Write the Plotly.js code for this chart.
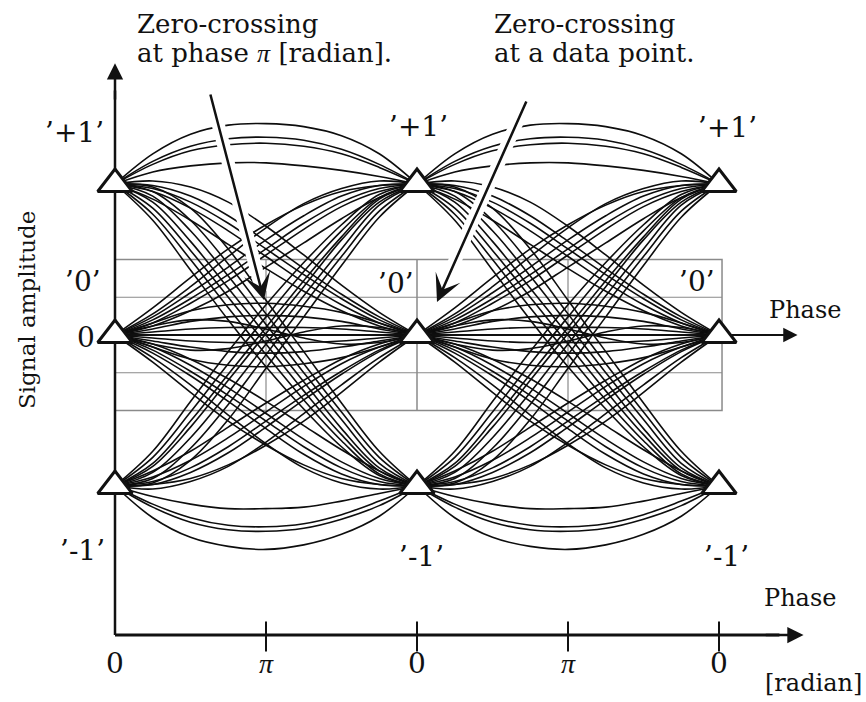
<!DOCTYPE html>
<html>
<head>
<meta charset="utf-8">
<script src="https://cdn.plot.ly/plotly-3.0.1.min.js"></script>
<style>
  html, body { margin: 0; padding: 0; background: #fff; }
  #chart { width: 866px; height: 702px; }
</style>
</head>
<body>
<div id="chart"></div>
<script>
// Phase samples (units of π rad) across each of the two symbol intervals
const phaseFirst  = [0, 0.25, 0.5, 0.75, 1, 1.25, 1.5, 1.75, 2];
const phaseSecond = [2, 2.25, 2.5, 2.75, 3, 3.25, 3.5, 3.75, 4];

// Signal trajectories, one row per trace, sampled at the phases above
const plusToPlus = [
  [1, 1.20, 1.33, 1.39, 1.40, 1.38, 1.32, 1.20, 1],
  [1, 1.15, 1.25, 1.30, 1.31, 1.29, 1.23, 1.13, 1],
  [1, 1.13, 1.22, 1.26, 1.27, 1.25, 1.20, 1.11, 1],
  [1, 1.08, 1.12, 1.14, 1.14, 1.12, 1.09, 1.05, 1]
];
const minusToMinus = [
  [-1, -1.21, -1.34, -1.40, -1.42, -1.39, -1.32, -1.20, -1],
  [-1, -1.14, -1.24, -1.29, -1.30, -1.28, -1.22, -1.13, -1],
  [-1, -1.12, -1.21, -1.26, -1.27, -1.25, -1.19, -1.10, -1],
  [-1, -1.07, -1.12, -1.15, -1.15, -1.14, -1.10, -1.05, -1]
];
const plusToMinus = [
  [1, 0.88, 0.62, 0.31, 0.00, -0.31, -0.62, -0.88, -1],
  [1, 0.92, 0.69, 0.39, 0.07, -0.25, -0.56, -0.85, -1],
  [1, 0.84, 0.56, 0.25, -0.06, -0.37, -0.66, -0.90, -1],
  [1, 0.95, 0.76, 0.47, 0.14, -0.19, -0.51, -0.81, -1],
  [1, 0.80, 0.50, 0.18, -0.13, -0.43, -0.70, -0.92, -1],
  [1, 0.98, 0.84, 0.57, 0.23, -0.11, -0.45, -0.77, -1],
  [1, 0.76, 0.43, 0.10, -0.21, -0.49, -0.74, -0.93, -1]
];
const minusToPlus = [
  [-1, -0.87, -0.61, -0.30, 0.01, 0.32, 0.63, 0.88, 1],
  [-1, -0.91, -0.68, -0.38, -0.06, 0.26, 0.57, 0.86, 1],
  [-1, -0.85, -0.57, -0.26, 0.05, 0.36, 0.65, 0.90, 1],
  [-1, -0.95, -0.75, -0.46, -0.13, 0.20, 0.52, 0.82, 1],
  [-1, -0.81, -0.51, -0.19, 0.12, 0.42, 0.69, 0.91, 1],
  [-1, -0.98, -0.83, -0.56, -0.22, 0.12, 0.46, 0.78, 1],
  [-1, -0.77, -0.44, -0.11, 0.20, 0.48, 0.73, 0.93, 1]
];
const plusToZero = [
  [1, 1.02, 0.98, 0.88, 0.72, 0.53, 0.33, 0.15, 0],
  [1, 0.99, 0.92, 0.79, 0.62, 0.44, 0.27, 0.12, 0],
  [1, 0.97, 0.88, 0.74, 0.57, 0.40, 0.24, 0.10, 0],
  [1, 0.95, 0.84, 0.69, 0.52, 0.35, 0.20, 0.08, 0],
  [1, 0.90, 0.76, 0.60, 0.44, 0.29, 0.16, 0.06, 0]
];
const zeroToPlus = [
  [0, 0.14, 0.32, 0.52, 0.71, 0.87, 0.97, 1.02, 1],
  [0, 0.12, 0.28, 0.45, 0.63, 0.79, 0.92, 0.99, 1],
  [0, 0.10, 0.24, 0.40, 0.57, 0.74, 0.88, 0.97, 1],
  [0, 0.08, 0.21, 0.36, 0.53, 0.70, 0.85, 0.95, 1],
  [0, 0.06, 0.16, 0.29, 0.45, 0.61, 0.77, 0.91, 1],
  [0, 0.18, 0.38, 0.57, 0.73, 0.86, 0.95, 0.99, 1]
];
const minusToZero = [
  [-1, -1.02, -0.97, -0.87, -0.71, -0.52, -0.33, -0.15, 0],
  [-1, -0.99, -0.91, -0.78, -0.61, -0.43, -0.26, -0.11, 0],
  [-1, -0.97, -0.88, -0.74, -0.57, -0.40, -0.24, -0.10, 0],
  [-1, -0.94, -0.83, -0.68, -0.51, -0.34, -0.19, -0.08, 0],
  [-1, -0.90, -0.77, -0.61, -0.45, -0.30, -0.16, -0.06, 0],
  [-1, -0.99, -0.95, -0.86, -0.73, -0.57, -0.38, -0.18, 0]
];
const zeroToMinus = [
  [0, -0.15, -0.33, -0.53, -0.72, -0.88, -0.98, -1.02, -1],
  [0, -0.12, -0.27, -0.44, -0.62, -0.79, -0.92, -0.99, -1],
  [0, -0.10, -0.24, -0.40, -0.57, -0.74, -0.88, -0.97, -1],
  [0, -0.08, -0.20, -0.35, -0.52, -0.69, -0.84, -0.95, -1],
  [0, -0.06, -0.16, -0.29, -0.44, -0.60, -0.76, -0.90, -1],
  [0, -0.18, -0.38, -0.57, -0.73, -0.86, -0.95, -0.99, -1]
];
const zeroToZero = [
  [0, 0.04, 0.09, 0.12, 0.13, 0.12, 0.09, 0.04, 0],
  [0, -0.04, -0.08, -0.11, -0.12, -0.11, -0.08, -0.04, 0],
  [0, 0.02, 0.04, 0.05, 0.05, 0.05, 0.04, 0.02, 0],
  [0, -0.02, -0.04, -0.05, -0.05, -0.05, -0.04, -0.02, 0],
  [0, 0.06, 0.10, 0.09, 0.04, -0.02, -0.06, -0.05, 0],
  [0, -0.06, -0.10, -0.09, -0.04, 0.02, 0.06, 0.05, 0],
  [0, 0.08, 0.16, 0.20, 0.21, 0.19, 0.15, 0.08, 0],
  [0, -0.08, -0.16, -0.20, -0.21, -0.19, -0.15, -0.08, 0]
];

// Decision points (data points) and their levels
const samplePhases = [0, 0, 0, 2, 2, 2, 4, 4, 4];
const sampleLevels = [1, 0, -1, 1, 0, -1, 1, 0, -1];

// Phase axis ticks
const tickPhases = [0, 1, 2, 3, 4];
const tickText = ['0', 'π', '0', 'π', '0'];

const W = 866, H = 702;
const serif = 'DejaVu Serif';
const ink = '#111111';
const piStyle = "font-family:'Liberation Serif';font-style:italic";

// Axis scale: 151 px per unit, origin at (115, 335) in the figure
const unitPx = 151, originX = 115, originY = 335;
const xRange = [-originX / unitPx, (W - originX) / unitPx];
const yRange = [(originY - H) / unitPx, originY / unitPx];
const floorLevel = -300 / unitPx;   // lower phase axis

const families = [plusToPlus, minusToMinus, plusToMinus, minusToPlus,
                  plusToZero, zeroToPlus, minusToZero, zeroToMinus, zeroToZero];

const traces = [];
[phaseFirst, phaseSecond].forEach(phases => {
  families.forEach(fam => {
    fam.forEach(levels => {
      traces.push({
        type: 'scatter', mode: 'lines',
        x: phases, y: levels,
        line: { color: '#0d0d0d', width: 1.6, shape: 'spline', smoothing: 1 },
        hoverinfo: 'skip'
      });
    });
  });
});

traces.push({
  type: 'scatter', mode: 'markers',
  x: samplePhases, y: sampleLevels,
  marker: { symbol: 'triangle-up', size: 30, color: '#ffffff',
            line: { color: ink, width: 3 } },
  hoverinfo: 'skip'
});

// Pixel helpers for layout-only items (labels, pointers)
const px = v => v / W;
const py = v => 1 - v / H;

function label(x, y, text, size, opts) {
  return Object.assign({
    xref: 'paper', yref: 'paper', x: px(x), y: py(y),
    text: text, showarrow: false,
    xanchor: 'center', yanchor: 'middle',
    font: { family: serif, size: size, color: ink }
  }, opts || {});
}

const piGlyph = `<span style="${piStyle}">π</span>`;

const annotations = [
  label(135, 24, 'Zero-crossing', 26, { xanchor: 'left' }),
  label(135, 53, `at phase ${piGlyph} [radian].`, 26, { xanchor: 'left' }),
  label(492, 24, 'Zero-crossing', 26, { xanchor: 'left' }),
  label(492, 53, 'at a data point.', 26, { xanchor: 'left' }),

  label(74, 132, '’+1’', 28),
  label(418, 127, '’+1’', 28),
  label(727, 128, '’+1’', 28),
  label(83, 281, '’0’', 28),
  label(396, 283, '’0’', 28),
  label(697, 281, '’0’', 28),
  label(86, 338, '0', 28),
  label(82, 550, '’-1’', 28),
  label(421, 556, '’-1’', 28),
  label(726, 556, '’-1’', 28),

  label(805, 310, 'Phase', 24),
  label(800, 598, 'Phase', 24),
  label(813, 683, '[radian]', 24),
  label(27, 310, 'Signal amplitude', 23, { textangle: -90 }),

  // pointer arrows
  { xref: 'paper', yref: 'paper', x: px(264), y: py(300), ax: 210 - 264, ay: 93 - 300,
    showarrow: true, arrowhead: 3, arrowsize: 1.8, arrowwidth: 2.5, arrowcolor: ink, text: '' },
  { xref: 'paper', yref: 'paper', x: px(437), y: py(302), ax: 527 - 437, ay: 100 - 302,
    showarrow: true, arrowhead: 3, arrowsize: 1.8, arrowwidth: 2.5, arrowcolor: ink, text: '' },

  // axis arrowheads
  { xref: 'x', yref: 'y', axref: 'x', ayref: 'y', x: 0, y: 1.80, ax: 0, ay: 1.55,
    showarrow: true, arrowhead: 2, arrowsize: 1.3, arrowwidth: 2.5, arrowcolor: ink, text: '' },
  { xref: 'x', yref: 'y', axref: 'x', ayref: 'y', x: 4.52, y: 0, ax: 4.3, ay: 0,
    showarrow: true, arrowhead: 2, arrowsize: 1.3, arrowwidth: 2.2, arrowcolor: ink, text: '' },
  { xref: 'x', yref: 'y', axref: 'x', ayref: 'y', x: 4.56, y: floorLevel, ax: 4.3, ay: floorLevel,
    showarrow: true, arrowhead: 2, arrowsize: 1.3, arrowwidth: 2.5, arrowcolor: ink, text: '' }
];

tickPhases.forEach((t, i) => {
  const txt = tickText[i] === 'π' ? `<span style="${piStyle}">π</span>` : tickText[i];
  annotations.push({
    xref: 'x', yref: 'y', x: t, y: floorLevel - 0.19,
    text: txt, showarrow: false,
    xanchor: 'center', yanchor: 'middle',
    font: { family: serif, size: 28, color: ink }
  });
});

const grey = '#8a8a8a';
const shapes = [
  // decision window grid
  { type: 'rect', xref: 'x', yref: 'y', x0: 0, x1: 4.02, y0: -0.5, y1: 0.5,
    line: { color: grey, width: 1.5 }, layer: 'below' },
  { type: 'line', xref: 'x', yref: 'y', x0: 0, x1: 4.02, y0: 0.25, y1: 0.25,
    line: { color: grey, width: 1.2 }, layer: 'below' },
  { type: 'line', xref: 'x', yref: 'y', x0: 0, x1: 4.02, y0: -0.25, y1: -0.25,
    line: { color: grey, width: 1.2 }, layer: 'below' },
  { type: 'line', xref: 'x', yref: 'y', x0: 1, x1: 1, y0: -0.5, y1: 0.5,
    line: { color: grey, width: 1.2 }, layer: 'below' },
  { type: 'line', xref: 'x', yref: 'y', x0: 2, x1: 2, y0: -0.5, y1: 0.5,
    line: { color: grey, width: 1.5 }, layer: 'below' },
  { type: 'line', xref: 'x', yref: 'y', x0: 3, x1: 3, y0: -0.5, y1: 0.5,
    line: { color: grey, width: 1.2 }, layer: 'below' },

  // axes
  { type: 'line', xref: 'x', yref: 'y', x0: 0, x1: 0, y0: floorLevel, y1: 1.62,
    line: { color: ink, width: 2.5 }, layer: 'below' },
  { type: 'line', xref: 'x', yref: 'y', x0: 0, x1: 4.4, y0: floorLevel, y1: floorLevel,
    line: { color: ink, width: 3 }, layer: 'below' },
  { type: 'line', xref: 'x', yref: 'y', x0: 0, x1: 4.4, y0: 0, y1: 0,
    line: { color: ink, width: 2 }, layer: 'below' },

  // clear band behind the pointer arrows
  { type: 'line', xref: 'paper', yref: 'paper', x0: px(210), y0: py(93), x1: px(262), y1: py(292),
    line: { color: '#ffffff', width: 13 }, layer: 'above' },
  { type: 'line', xref: 'paper', yref: 'paper', x0: px(527), y0: py(100), x1: px(440), y1: py(294),
    line: { color: '#ffffff', width: 13 }, layer: 'above' }
];

tickPhases.slice(1).forEach(t => {
  shapes.push({ type: 'line', xref: 'x', yref: 'y', x0: t, x1: t,
    y0: floorLevel + 0.09, y1: floorLevel - 0.11,
    line: { color: ink, width: 2 }, layer: 'below' });
});

const layout = {
  width: W, height: H,
  margin: { l: 0, r: 0, t: 0, b: 0 },
  paper_bgcolor: '#ffffff', plot_bgcolor: '#ffffff',
  showlegend: false,
  xaxis: { range: xRange, visible: false, fixedrange: true },
  yaxis: { range: yRange, visible: false, fixedrange: true },
  shapes: shapes,
  annotations: annotations
};

Plotly.newPlot('chart', traces, layout, { staticPlot: true, displayModeBar: false });
</script>
</body>
</html>
